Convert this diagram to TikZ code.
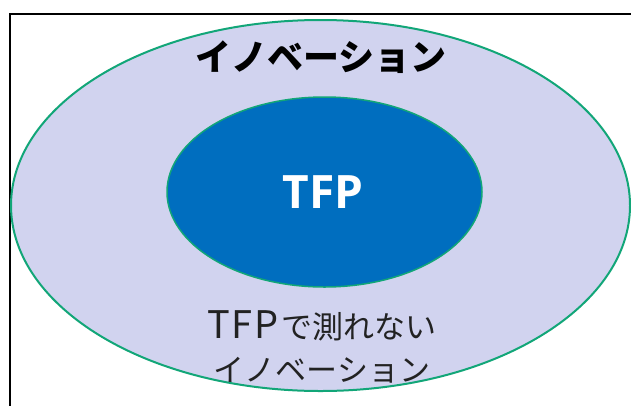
\documentclass[tikz,border=0pt]{standalone}
\usepackage{fontspec}
\setmainfont{Open Sans}
\newfontfamily\jp{Noto Sans CJK JP}
\usetikzlibrary{shapes.geometric}
\definecolor{outerfill}{RGB}{209,211,239}
\definecolor{edgegreen}{RGB}{18,166,120}
\definecolor{innerblue}{RGB}{0,110,191}
\definecolor{txtdark}{RGB}{34,34,34}
\tikzset{
  ring/.style={ellipse, inner sep=0pt, draw=edgegreen},
}
\begin{document}
\begin{tikzpicture}[x=1pt,y=-1pt]
\useasboundingbox (0,0) rectangle (631,405);
\clip (0,0) rectangle (631,405);
\fill[white] (0,0) rectangle (631,405);
\draw[black, line width=2pt] (9.5,420) -- (9.5,13.5) -- (650,13.5);
\node[ring, fill=outerfill, line width=2pt, minimum width=619pt, minimum height=371pt] (outer) at (320.5,205.5) {};
\node[ring, fill=innerblue, line width=1.5pt, minimum width=315pt, minimum height=190pt] (inner) at (324.5,192) {};
\node[text=white, font=\bfseries\fontsize{46}{50}\selectfont] (tfp) at (323,192) {TFP};
\node[text=black, font=\jp\bfseries\fontsize{36}{40}\selectfont] (title) at (321,57) {イノベーション};
\node[text=txtdark, font=\jp\fontsize{31}{43}\selectfont, align=center] (sub) at (322,347) {{\fontsize{38}{43}\selectfont T\hspace{2pt}F\hspace{2pt}P}\hspace{3pt}で測れない\\イノベーション};
\end{tikzpicture}
\end{document}
